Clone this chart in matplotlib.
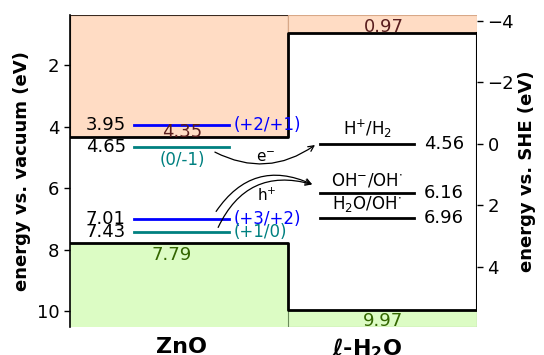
import matplotlib
matplotlib.use("Agg")
import matplotlib.pyplot as plt
from matplotlib.patches import Rectangle

plt.rcParams['font.family'] = ['DejaVu Sans']
plt.rcParams['mathtext.default'] = 'regular'

# Band edges (eV vs. vacuum)
zno_cbm, zno_vbm = 4.35, 7.79
water_cbm, water_vbm = 0.97, 9.97

# ZnO defect transition levels
defect_levels = [3.95, 4.65, 7.01, 7.43]
defect_labels = ['(+2/+1)', '(0/-1)', '(+3/+2)', '(+1/0)']
defect_colors = ['#0000ff', '#008080', '#0000ff', '#008080']

# Water redox levels
redox_levels = [4.56, 6.16, 6.96]
redox_labels = [r'H$^{+}$/H$_2$', r'OH$^{-}$/OH$^{\cdot}$', r'H$_2$O/OH$^{\cdot}$']

she_shift = 4.56
left_ticks = [2, 4, 6, 8, 10]
right_ticks = [-4, -2, 0, 2, 4]
materials = ['ZnO', 'ℓ-H$_2$O']

ylo, yhi = 0.37, 10.52
split = 0.536

fig = plt.figure(figsize=(5.44, 3.55), dpi=100)
ax = fig.add_axes([70/544, 1-327/355, 407/544, 312/355])
ax.set_xlim(0, 1)
ax.set_ylim(yhi, ylo)

orange, green = '#ffdcc4', '#dcfcc4'
ax.add_patch(Rectangle((0, ylo), split, zno_cbm - ylo, facecolor=orange,
                       edgecolor='#3a2a20', lw=0.8, zorder=0))
ax.add_patch(Rectangle((split, ylo), 1 - split, water_cbm - ylo, facecolor=orange,
                       edgecolor='#d8a888', lw=0.8, zorder=0))
ax.add_patch(Rectangle((0, zno_vbm), split, yhi - zno_vbm, facecolor=green,
                       edgecolor='none', zorder=0))
ax.add_patch(Rectangle((split, water_vbm), 1 - split, yhi - water_vbm, facecolor=green,
                       edgecolor='#6a8a5a', lw=0.8, zorder=0))

# Stepped band-edge lines
ax.plot([0, split, split, 1], [zno_cbm, zno_cbm, water_cbm, water_cbm], color='black', lw=2, zorder=3)
ax.plot([0, split, split, 1], [zno_vbm, zno_vbm, water_vbm, water_vbm], color='black', lw=2, zorder=3)
ax.plot([1, 1], [water_cbm, water_vbm], color='black', lw=1.5, zorder=3)

# Band-edge values
ax.text(0.275, zno_cbm - 0.02, f'{zno_cbm:.2f}', color='#5a1e1e', fontsize=13, ha='center', va='baseline')
ax.text(0.25, zno_vbm + 0.08, f'{zno_vbm:.2f}', color='#336600', fontsize=13, ha='center', va='top')
ax.text(0.77, water_cbm - 0.05, f'{water_cbm:.2f}', color='#5a1e1e', fontsize=13, ha='center', va='baseline')
ax.text(0.77, water_vbm + 0.05, f'{water_vbm:.2f}', color='#336600', fontsize=13, ha='center', va='top')

# Defect levels
x0, x1 = 0.157, 0.391
for lvl, lab, col in zip(defect_levels, defect_labels, defect_colors):
    ax.plot([x0, x1], [lvl, lvl], color=col, lw=2, zorder=2)
    ax.text(x0 - 0.02, lvl, f'{lvl:.2f}', color='black', fontsize=13, ha='right', va='center')
    if lab == '(0/-1)':
        ax.text(0.275, lvl + 0.45, lab, color=col, fontsize=12, ha='center', va='center')
    else:
        ax.text(x1 + 0.01, lvl, lab, color=col, fontsize=12, ha='left', va='center')

# Redox levels
r0, r1 = 0.614, 0.845
for lvl, lab in zip(redox_levels, redox_labels):
    ax.plot([r0, r1], [lvl, lvl], color='black', lw=2, zorder=2)
    ax.text(0.73, lvl - 0.12, lab, color='black', fontsize=12, ha='center', va='bottom')
    ax.text(0.87, lvl, f'{lvl:.2f}', color='black', fontsize=13, ha='left', va='center')

# Charge transfer arrows
arrow = dict(arrowstyle='->', color='black', lw=0.9, shrinkA=0, shrinkB=0)
ax.annotate('', xy=(0.602, 4.60), xytext=(0.356, 4.83),
            arrowprops=dict(connectionstyle='arc3,rad=0.3', **arrow))
ax.text(0.48, 5.0, r'e$^{-}$', fontsize=11, ha='center', va='center')
ax.annotate('', xy=(0.595, 5.88), xytext=(0.359, 6.76),
            arrowprops=dict(connectionstyle='arc3,rad=-0.42', **arrow))
ax.annotate('', xy=(0.595, 5.88), xytext=(0.364, 7.28),
            arrowprops=dict(connectionstyle='arc3,rad=-0.42', **arrow))
ax.text(0.484, 6.25, r'h$^{+}$', fontsize=11, ha='center', va='center')

for s in ['top', 'bottom', 'right']:
    ax.spines[s].set_visible(False)
ax.spines['left'].set_linewidth(1.2)
ax.set_yticks(left_ticks)
ax.tick_params(axis='y', labelsize=13, length=4, width=1)
ax.set_xticks([0.275, 0.73])
ax.set_xticklabels(materials, fontsize=16, fontweight='bold')
ax.tick_params(axis='x', length=0, pad=7)
ax.set_ylabel('energy vs. vacuum (eV)', fontsize=13, fontweight='bold', labelpad=4)

ax2 = ax.twinx()
ax2.set_ylim(yhi - she_shift, ylo - she_shift)
ax2.set_yticks(right_ticks)
for s in ['top', 'bottom', 'right', 'left']:
    ax2.spines[s].set_visible(False)
ax2.tick_params(axis='y', labelsize=13, length=4, width=1)
ax2.set_ylabel('energy vs. SHE (eV)', fontsize=13, fontweight='bold', labelpad=3)

fig.savefig('out.png', dpi=100)
